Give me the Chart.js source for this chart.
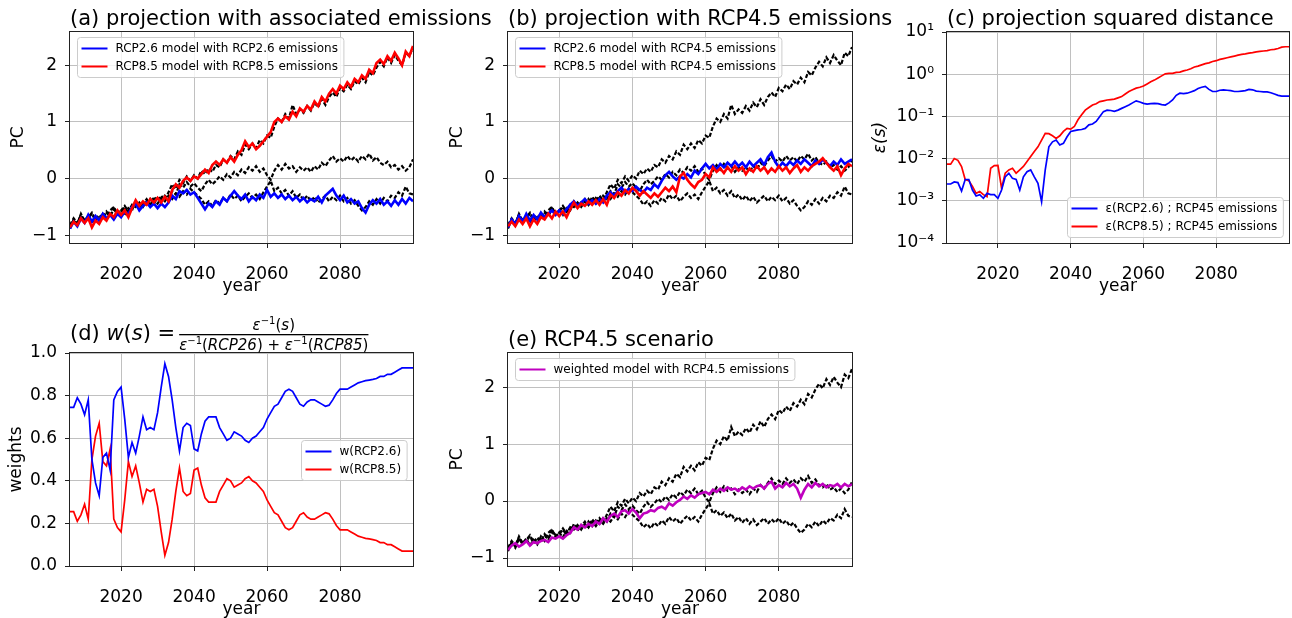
<!DOCTYPE html>
<html>
<head>
<meta charset="utf-8">
<script src="https://cdn.jsdelivr.net/npm/chart.js@4/dist/chart.umd.min.js"></script>
<style>
  html, body { margin: 0; padding: 0; background: #fff; }
  #wrap { position: relative; width: 1292px; height: 618px; }
  #wrap canvas { position: absolute; left: 0; top: 0; }
</style>
</head>
<body>
<div id="wrap">
  <canvas id="pa" width="1292" height="618"></canvas>
  <canvas id="pb" width="1292" height="618"></canvas>
  <canvas id="pc" width="1292" height="618"></canvas>
  <canvas id="pd" width="1292" height="618"></canvas>
  <canvas id="pe" width="1292" height="618"></canvas>
</div>
<script>
// one value per year, 2006 .. 2100
const years = [];
for (let y = 2006; y <= 2100; y++) years.push(y);
const yearTicks = [2020, 2040, 2060, 2080];
const pcTicks = [-1, 0, 1, 2];
const weightTicks = [0, 0.2, 0.4, 0.6, 0.8, 1.0];
const epsTicks = [1e-4, 1e-3, 1e-2, 1e-1, 1e0, 1e1];
const epsTickLabels = ["10\u207B\u2074", "10\u207B\u00B3", "10\u207B\u00B2", "10\u207B\u00B9", "10\u2070", "10\u00B9"];

// black reference runs (RCP8.5, RCP4.5, RCP2.6)
const blackHigh = [
  -0.88,-0.72,-0.80,-0.62,-0.74,-0.66,-0.78,-0.68,-0.76,-0.62,
  -0.70,-0.56,-0.50,-0.62,-0.55,-0.64,-0.52,-0.56,-0.40,-0.48,
  -0.44,-0.36,-0.46,-0.32,-0.40,-0.30,-0.38,-0.24,-0.10,-0.18,
  -0.02,-0.08,0.04,-0.04,0.06,0.00,0.14,0.08,0.18,0.12,
  0.24,0.20,0.34,0.28,0.40,0.34,0.48,0.42,0.60,0.52,
  0.62,0.54,0.68,0.62,0.76,0.72,0.92,1.06,1.00,1.14,
  1.06,1.30,1.14,1.22,1.16,1.28,1.20,1.34,1.26,1.40,
  1.30,1.44,1.52,1.44,1.60,1.54,1.66,1.58,1.72,1.66,
  1.78,1.70,1.88,1.82,1.96,2.06,1.98,2.14,2.04,2.18,
  2.08,2.00,2.22,2.16,2.32
];
const blackMid = [
  -0.84,-0.74,-0.82,-0.66,-0.76,-0.70,-0.62,-0.74,-0.66,-0.72,
  -0.60,-0.66,-0.54,-0.62,-0.58,-0.50,-0.60,-0.48,-0.44,-0.52,
  -0.42,-0.48,-0.36,-0.44,-0.34,-0.40,-0.30,-0.36,-0.22,-0.28,
  -0.10,-0.16,-0.06,-0.14,-0.08,-0.16,-0.22,-0.10,-0.02,-0.10,
  -0.04,0.04,-0.02,0.08,0.02,0.12,0.06,0.16,0.10,0.20,
  0.14,0.22,0.12,0.18,0.06,-0.02,0.14,0.24,0.16,0.26,
  0.18,0.22,0.12,0.20,0.14,0.20,0.12,0.22,0.16,0.28,
  0.22,0.32,0.40,0.30,0.36,0.30,0.40,0.32,0.38,0.30,
  0.40,0.34,0.44,0.32,0.38,0.28,0.24,0.30,0.20,0.24,
  0.16,0.22,0.14,0.20,0.34
];
const blackLow = [
  -0.82,-0.70,-0.78,-0.64,-0.74,-0.68,-0.60,-0.72,-0.64,-0.70,
  -0.58,-0.66,-0.52,-0.60,-0.56,-0.48,-0.58,-0.46,-0.50,-0.42,
  -0.50,-0.40,-0.46,-0.36,-0.44,-0.34,-0.40,-0.30,-0.36,-0.26,
  -0.32,-0.22,-0.28,-0.18,-0.24,-0.30,-0.36,-0.46,-0.40,-0.48,
  -0.38,-0.44,-0.34,-0.40,-0.28,-0.36,-0.30,-0.40,-0.32,-0.26,
  -0.34,-0.28,-0.36,-0.24,-0.14,-0.04,-0.22,-0.16,-0.26,-0.20,
  -0.30,-0.22,-0.34,-0.28,-0.38,-0.30,-0.40,-0.32,-0.42,-0.36,
  -0.30,-0.40,-0.32,-0.38,-0.30,-0.40,-0.34,-0.44,-0.38,-0.48,
  -0.56,-0.50,-0.40,-0.46,-0.36,-0.44,-0.34,-0.40,-0.30,-0.34,
  -0.24,-0.30,-0.14,-0.26,-0.28
];

// (a) models with their own emissions
const rcp85Own = [
  -0.86,-0.76,-0.82,-0.70,-0.78,-0.70,-0.86,-0.74,-0.80,-0.68,
  -0.74,-0.62,-0.68,-0.56,-0.64,-0.56,-0.68,-0.52,-0.38,-0.48,
  -0.40,-0.46,-0.36,-0.42,-0.34,-0.42,-0.32,-0.40,-0.20,-0.10,
  -0.16,-0.04,0.02,-0.04,0.04,0.00,0.08,0.16,0.10,0.24,
  0.30,0.24,0.34,0.28,0.38,0.30,0.42,0.50,0.66,0.56,
  0.62,0.52,0.58,0.66,0.74,0.82,1.00,1.06,1.00,1.10,
  1.04,1.18,1.10,1.24,1.18,1.28,1.22,1.36,1.28,1.44,
  1.36,1.50,1.58,1.50,1.64,1.58,1.70,1.62,1.76,1.70,
  1.82,1.76,1.92,1.86,2.04,2.10,2.02,2.16,2.08,2.22,
  2.12,2.00,2.24,2.16,2.34
];
const rcp26Own = [
  -0.88,-0.76,-0.84,-0.70,-0.78,-0.64,-0.76,-0.66,-0.74,-0.62,
  -0.70,-0.64,-0.72,-0.62,-0.68,-0.58,-0.62,-0.50,-0.44,-0.56,
  -0.48,-0.42,-0.50,-0.44,-0.52,-0.44,-0.50,-0.42,-0.30,-0.36,
  -0.22,-0.26,-0.20,-0.28,-0.24,-0.34,-0.44,-0.54,-0.44,-0.50,
  -0.40,-0.46,-0.34,-0.40,-0.30,-0.22,-0.30,-0.36,-0.28,-0.40,
  -0.32,-0.38,-0.28,-0.34,-0.20,-0.32,-0.26,-0.34,-0.28,-0.36,
  -0.30,-0.38,-0.32,-0.40,-0.34,-0.42,-0.36,-0.40,-0.32,-0.42,
  -0.30,-0.24,-0.18,-0.30,-0.38,-0.30,-0.42,-0.36,-0.44,-0.40,
  -0.52,-0.60,-0.46,-0.38,-0.44,-0.36,-0.46,-0.40,-0.48,-0.38,
  -0.46,-0.36,-0.44,-0.34,-0.40
];

// (b) both models with RCP4.5 emissions
const rcp26With45 = [
  -0.86,-0.72,-0.80,-0.66,-0.76,-0.62,-0.74,-0.64,-0.72,-0.60,
  -0.68,-0.62,-0.56,-0.64,-0.56,-0.62,-0.54,-0.46,-0.40,-0.48,
  -0.42,-0.36,-0.44,-0.38,-0.44,-0.36,-0.42,-0.30,-0.24,-0.30,
  -0.22,-0.16,-0.24,-0.18,-0.22,-0.14,-0.20,-0.24,-0.16,-0.20,
  -0.10,-0.16,-0.04,0.06,0.12,0.04,-0.02,0.04,0.00,0.08,
  0.02,0.14,0.08,0.18,0.26,0.18,0.24,0.16,0.26,0.20,
  0.28,0.22,0.30,0.22,0.28,0.20,0.30,0.22,0.28,0.34,
  0.24,0.38,0.46,0.30,0.20,0.28,0.22,0.30,0.24,0.32,
  0.26,0.34,0.28,0.22,0.32,0.26,0.34,0.28,0.22,0.30,
  0.24,0.34,0.26,0.30,0.34
];
const rcp85With45 = [
  -0.84,-0.76,-0.84,-0.72,-0.80,-0.70,-0.84,-0.72,-0.80,-0.68,
  -0.72,-0.62,-0.70,-0.58,-0.66,-0.58,-0.68,-0.54,-0.42,-0.52,
  -0.44,-0.48,-0.40,-0.46,-0.38,-0.46,-0.36,-0.46,-0.28,-0.34,
  -0.24,-0.30,-0.20,-0.26,-0.16,-0.22,-0.30,-0.22,-0.28,-0.34,
  -0.26,-0.32,-0.24,-0.16,-0.22,-0.14,-0.24,0.04,0.10,-0.02,
  -0.10,-0.16,-0.06,-0.02,0.08,0.02,0.20,0.12,0.18,0.10,
  0.20,0.12,0.22,0.14,0.20,0.08,0.18,0.12,0.22,0.14,
  0.20,0.10,0.18,0.12,0.22,0.14,0.20,0.10,0.18,0.24,
  0.12,0.20,0.14,0.22,0.26,0.30,0.36,0.28,0.20,0.14,
  0.22,0.06,0.18,0.26,0.22
];

// (c) squared distance
const epsRcp26 = [
  2.5e-3,2.5e-3,2.8e-3,2.7e-3,1.7e-3,3.2e-3,3.2e-3,1.8e-3,1.3e-3,1.4e-3,
  1.15e-3,1.5e-3,1.4e-3,1.4e-3,1.15e-3,1.8e-3,3.7e-3,4.5e-3,3.4e-3,3.2e-3,
  1.8e-3,3.7e-3,4.9e-3,5.4e-3,3.7e-3,2.6e-3,0.95e-3,5.4e-3,1.9e-2,2.5e-2,
  2.75e-2,2.1e-2,2.3e-2,3.3e-2,4.4e-2,4.6e-2,4.8e-2,4.9e-2,5.2e-2,6.3e-2,
  6.6e-2,7.6e-2,0.10,0.13,0.141,0.138,0.132,0.141,0.155,0.17,
  0.186,0.209,0.234,0.219,0.204,0.195,0.20,0.204,0.20,0.19,
  0.186,0.209,0.245,0.316,0.355,0.347,0.355,0.38,0.407,0.457,
  0.49,0.513,0.437,0.389,0.389,0.417,0.427,0.417,0.407,0.389,
  0.389,0.398,0.407,0.437,0.427,0.398,0.389,0.38,0.38,0.363,
  0.339,0.316,0.302,0.302,0.302
];
const epsRcp85 = [
  7.4e-3,7.4e-3,1.0e-2,9.1e-3,6.5e-3,3.2e-3,3.0e-3,2.2e-3,1.5e-3,1.66e-3,
  1.4e-3,1.26e-3,5.9e-3,6.8e-3,6.9e-3,2.0e-3,4.5e-3,5.4e-3,5.9e-3,4.5e-3,
  5.4e-3,6.5e-3,8.5e-3,1.12e-2,1.48e-2,1.9e-2,2.75e-2,3.98e-2,3.9e-2,3.47e-2,
  3.0e-2,3.47e-2,4.4e-2,5.2e-2,5.0e-2,5.75e-2,8.3e-2,0.11,0.141,0.162,
  0.186,0.20,0.224,0.234,0.245,0.251,0.257,0.275,0.295,0.339,
  0.389,0.427,0.468,0.49,0.525,0.589,0.66,0.724,0.813,0.912,
  1.02,1.05,1.05,1.10,1.12,1.20,1.26,1.35,1.48,1.55,
  1.66,1.78,1.86,2.0,2.09,2.24,2.34,2.45,2.57,2.69,
  2.82,2.95,3.02,3.16,3.24,3.39,3.47,3.55,3.63,3.80,
  3.89,4.07,4.37,4.47,4.47
];

// (d) weights
const wRcp26 = [
  0.745,0.745,0.79,0.76,0.71,0.78,0.50,0.39,0.33,0.51,
  0.53,0.45,0.78,0.82,0.84,0.69,0.51,0.58,0.53,0.61,
  0.70,0.64,0.65,0.64,0.72,0.84,0.95,0.89,0.78,0.65,
  0.54,0.65,0.67,0.66,0.55,0.54,0.62,0.68,0.70,0.70,
  0.70,0.65,0.62,0.59,0.60,0.63,0.62,0.61,0.59,0.58,
  0.60,0.61,0.63,0.65,0.69,0.72,0.75,0.76,0.79,0.82,
  0.83,0.82,0.79,0.76,0.75,0.77,0.78,0.78,0.77,0.76,
  0.75,0.755,0.78,0.81,0.83,0.83,0.83,0.84,0.85,0.86,
  0.865,0.87,0.873,0.876,0.88,0.89,0.89,0.90,0.90,0.91,
  0.92,0.93,0.93,0.93,0.93
];
const wRcp85 = [
  0.255,0.255,0.21,0.24,0.29,0.22,0.50,0.61,0.67,0.49,
  0.47,0.55,0.22,0.18,0.16,0.31,0.49,0.42,0.47,0.39,
  0.30,0.36,0.35,0.36,0.28,0.16,0.05,0.11,0.22,0.35,
  0.46,0.35,0.33,0.34,0.45,0.46,0.38,0.32,0.30,0.30,
  0.30,0.35,0.38,0.41,0.40,0.37,0.38,0.39,0.41,0.42,
  0.40,0.39,0.37,0.35,0.31,0.28,0.25,0.24,0.21,0.18,
  0.17,0.18,0.21,0.24,0.25,0.23,0.22,0.22,0.23,0.24,
  0.25,0.245,0.22,0.19,0.17,0.17,0.17,0.16,0.15,0.14,
  0.135,0.13,0.127,0.124,0.12,0.11,0.11,0.10,0.10,0.09,
  0.08,0.07,0.07,0.07,0.07
];

// (e) weighted model
const weighted45 = [
  -0.86,-0.78,-0.74,-0.80,-0.76,-0.70,-0.78,-0.72,-0.74,-0.70,
  -0.68,-0.72,-0.64,-0.66,-0.62,-0.66,-0.60,-0.56,-0.46,-0.50,
  -0.42,-0.46,-0.40,-0.44,-0.36,-0.40,-0.30,-0.36,-0.26,-0.22,
  -0.28,-0.18,-0.16,-0.22,-0.14,-0.20,-0.30,-0.22,-0.20,-0.16,
  -0.18,-0.12,-0.10,-0.14,-0.04,-0.08,-0.02,0.02,0.08,0.04,
  0.10,0.06,0.12,0.14,0.16,0.12,0.20,0.16,0.22,0.18,
  0.24,0.20,0.22,0.18,0.24,0.20,0.26,0.22,0.26,0.28,
  0.22,0.30,0.34,0.22,0.28,0.24,0.32,0.26,0.30,0.22,
  0.06,0.20,0.30,0.24,0.32,0.26,0.30,0.24,0.28,0.26,
  0.30,0.24,0.30,0.26,0.30
];

const F = '"DejaVu Sans"';
const GRID = '#c0c0c0';

function pts(arr) {
  return arr.map((v, i) => ({ x: years[i], y: v }));
}
function colored(data, color) {
  return { data: pts(data), borderColor: color, borderWidth: 2.6, pointRadius: 0, order: 0, fill: false };
}
function black(data) {
  return { data: pts(data), borderColor: '#000', borderWidth: 2.2, borderDash: [4, 2], pointRadius: 0, order: 1, fill: false };
}
function minusSign(v) {
  return String(v).replace('-', '\u2212');
}

const framePlugin = {
  id: 'frame',
  afterDatasetsDraw(chart) {
    const a = chart.chartArea, ctx = chart.ctx;
    ctx.save();
    ctx.strokeStyle = '#222';
    ctx.lineWidth = 1;
    ctx.strokeRect(Math.round(a.left) - 0.5, Math.round(a.top) - 0.5,
      Math.round(a.right - a.left) + 1, Math.round(a.bottom - a.top) + 1);
    ctx.restore();
  }
};

function titlePlugin(text) {
  return {
    id: 'panelTitle',
    afterDraw(chart) {
      const a = chart.chartArea, ctx = chart.ctx;
      ctx.save();
      ctx.fillStyle = '#000';
      ctx.font = '21px ' + F;
      ctx.textBaseline = 'alphabetic';
      ctx.textAlign = 'left';
      ctx.fillText(text, a.left, a.top - 7);
      ctx.restore();
    }
  };
}

function legendPlugin(items, where) {
  return {
    id: 'boxLegend',
    afterDraw(chart) {
      const a = chart.chartArea, ctx = chart.ctx;
      ctx.save();
      ctx.font = '12px ' + F;
      const tw = Math.max(...items.map(it => ctx.measureText(it.label).width));
      const w = 4 + 26 + 8 + tw + 6;
      const h = items.length * 18 + 4;
      let x, y;
      if (where === 'ul') { x = a.left + 7; y = a.top + 5; }
      else if (where === 'lr') { x = a.right - 6 - w; y = a.bottom - 6 - h; }
      else { x = a.right - 6 - w; y = (a.top + a.bottom) / 2 - h / 2; }
      x = Math.round(x) + 0.5; y = Math.round(y) + 0.5;
      ctx.beginPath();
      if (ctx.roundRect) ctx.roundRect(x, y, w, h, 3); else ctx.rect(x, y, w, h);
      ctx.fillStyle = 'rgba(255,255,255,0.8)';
      ctx.fill();
      ctx.strokeStyle = '#cccccc';
      ctx.lineWidth = 1;
      ctx.stroke();
      items.forEach((it, i) => {
        const cy = y + 11 + i * 18;
        ctx.beginPath();
        ctx.moveTo(x + 4, cy);
        ctx.lineTo(x + 30, cy);
        ctx.strokeStyle = it.color;
        ctx.lineWidth = 2;
        ctx.stroke();
        ctx.fillStyle = '#000';
        ctx.textBaseline = 'middle';
        ctx.fillText(it.label, x + 38, cy + 0.5);
      });
      ctx.restore();
    }
  };
}

function drawRuns(ctx, x, y, runs) {
  for (const r of runs) {
    ctx.font = r.f;
    ctx.fillText(r.t, x, y + (r.dy || 0));
    x += ctx.measureText(r.t).width;
  }
  return x;
}
function runsWidth(ctx, runs) {
  let w = 0;
  for (const r of runs) { ctx.font = r.f; w += ctx.measureText(r.t).width; }
  return w;
}

const weightTitlePlugin = {
  id: 'weightTitle',
  afterDraw(chart) {
    const a = chart.chartArea, ctx = chart.ctx;
    const up = '21px ' + F, it = 'italic 21px ' + F;
    const s = '15px ' + F, si = 'italic 15px ' + F, sup = '10px ' + F;
    ctx.save();
    ctx.fillStyle = '#000';
    ctx.textBaseline = 'alphabetic';
    ctx.textAlign = 'left';
    let x = drawRuns(ctx, a.left, a.top - 13, [
      { t: '(d) ', f: up }, { t: 'w', f: it }, { t: '(', f: up }, { t: 's', f: it },
      { t: ')', f: up }, { t: ' =', f: up }
    ]);
    x += 4;
    const num = [
      { t: '\u03B5', f: si }, { t: '\u22121', f: sup, dy: -6 }, { t: '(', f: s },
      { t: 's', f: si }, { t: ')', f: s }
    ];
    const den = [
      { t: '\u03B5', f: si }, { t: '\u22121', f: sup, dy: -6 }, { t: '(', f: s },
      { t: 'RCP26', f: si }, { t: ') + ', f: s },
      { t: '\u03B5', f: si }, { t: '\u22121', f: sup, dy: -6 }, { t: '(', f: s },
      { t: 'RCP85', f: si }, { t: ')', f: s }
    ];
    const dw = runsWidth(ctx, den), nw = runsWidth(ctx, num);
    drawRuns(ctx, x, a.top - 3, den);
    drawRuns(ctx, x + (dw - nw) / 2, a.top - 23, num);
    ctx.fillRect(x, a.top - 19, dw, 1.3);
    ctx.restore();
  }
};

function makeOptions(p) {
  return {
    responsive: false,
    animation: false,
    devicePixelRatio: 1,
    layout: { padding: { left: p.yl, top: p.T, right: 1292 - p.R, bottom: 618 - p.B - 54 } },
    plugins: { legend: { display: false }, tooltip: { enabled: false } },
    elements: { point: { radius: 0 }, line: { tension: 0 } },
    scales: {
      x: {
        type: 'linear', min: 2006, max: 2100,
        afterFit: s => { s.height = 54; },
        afterBuildTicks: s => { s.ticks = yearTicks.map(v => ({ value: v })); },
        grid: { color: GRID, lineWidth: 1, tickColor: '#222', tickLength: 5, tickWidth: 1 },
        border: { display: false },
        ticks: { color: '#000', font: { family: 'DejaVu Sans', size: 17 }, padding: 16, maxRotation: 0,
          callback: v => String(v) },
        title: { display: true, text: 'year', color: '#000', font: { family: 'DejaVu Sans', size: 17 },
          padding: 0 }
      },
      y: {
        type: p.log ? 'logarithmic' : 'linear', min: p.min, max: p.max,
        afterFit: s => { s.width = p.L - p.yl; },
        afterBuildTicks: s => { s.ticks = p.ticks.map(v => ({ value: v })); },
        grid: { color: GRID, lineWidth: 1, tickColor: '#222', tickLength: 5, tickWidth: 1 },
        border: { display: false },
        ticks: { color: '#000', font: { family: 'DejaVu Sans', size: 17 }, padding: 8,
          callback: p.fmt },
        title: { display: true, text: p.ylabel, color: '#000',
          font: { family: 'DejaVu Sans', size: 17, style: p.yitalic ? 'italic' : 'normal' }, padding: 0 }
      }
    }
  };
}

const pcFmt = v => minusSign(v);

// (a)
new Chart(document.getElementById('pa'), {
  type: 'line',
  data: { datasets: [
    colored(rcp85Own, '#ff0000'), colored(rcp26Own, '#0000ff'),
    black(blackHigh), black(blackMid), black(blackLow)
  ] },
  options: makeOptions({ yl: 8, L: 70, T: 32, R: 413, B: 243, min: -1.135, max: 2.586,
    ticks: pcTicks, fmt: pcFmt, ylabel: 'PC' }),
  plugins: [framePlugin, titlePlugin('(a) projection with associated emissions'),
    legendPlugin([{ label: 'RCP2.6 model with RCP2.6 emissions', color: '#0000ff' },
      { label: 'RCP8.5 model with RCP8.5 emissions', color: '#ff0000' }], 'ul')]
});

// (b)
new Chart(document.getElementById('pb'), {
  type: 'line',
  data: { datasets: [
    colored(rcp85With45, '#ff0000'), colored(rcp26With45, '#0000ff'),
    black(blackHigh), black(blackMid), black(blackLow)
  ] },
  options: makeOptions({ yl: 447, L: 508, T: 32, R: 852, B: 243, min: -1.135, max: 2.586,
    ticks: pcTicks, fmt: pcFmt, ylabel: 'PC' }),
  plugins: [framePlugin, titlePlugin('(b) projection with RCP4.5 emissions'),
    legendPlugin([{ label: 'RCP2.6 model with RCP4.5 emissions', color: '#0000ff' },
      { label: 'RCP8.5 model with RCP4.5 emissions', color: '#ff0000' }], 'ul')]
});

// (c)
const cOpts = makeOptions({ yl: 870, L: 947, T: 32, R: 1289, B: 243, min: 1e-4, max: 10, log: true,
  ticks: epsTicks, fmt: (v) => { const i = epsTicks.findIndex(t => Math.abs(Math.log10(t) - Math.log10(v)) < 1e-6); return i >= 0 ? epsTickLabels[i] : ''; },
  ylabel: '\u03B5(s)', yitalic: true });
new Chart(document.getElementById('pc'), {
  type: 'line',
  data: { datasets: [
    { data: pts(epsRcp26), borderColor: '#0000ff', borderWidth: 1.7, pointRadius: 0, fill: false },
    { data: pts(epsRcp85), borderColor: '#ff0000', borderWidth: 1.7, pointRadius: 0, fill: false }
  ] },
  options: cOpts,
  plugins: [framePlugin, titlePlugin('(c) projection squared distance'),
    legendPlugin([{ label: '\u03B5(RCP2.6) ; RCP45 emissions', color: '#0000ff' },
      { label: '\u03B5(RCP8.5) ; RCP45 emissions', color: '#ff0000' }], 'lr')]
});

// (d)
new Chart(document.getElementById('pd'), {
  type: 'line',
  data: { datasets: [
    { data: pts(wRcp26), borderColor: '#0000ff', borderWidth: 1.7, pointRadius: 0, fill: false },
    { data: pts(wRcp85), borderColor: '#ff0000', borderWidth: 1.7, pointRadius: 0, fill: false }
  ] },
  options: makeOptions({ yl: 6, L: 70, T: 353, R: 413, B: 566, min: 0, max: 1,
    ticks: weightTicks, fmt: v => Number(v).toFixed(1), ylabel: 'weights' }),
  plugins: [framePlugin, weightTitlePlugin,
    legendPlugin([{ label: 'w(RCP2.6)', color: '#0000ff' },
      { label: 'w(RCP8.5)', color: '#ff0000' }], 'cr')]
});

// (e)
new Chart(document.getElementById('pe'), {
  type: 'line',
  data: { datasets: [
    colored(weighted45, '#bf00bf'),
    black(blackHigh), black(blackMid), black(blackLow)
  ] },
  options: makeOptions({ yl: 447, L: 508, T: 353, R: 852, B: 566, min: -1.14, max: 2.6,
    ticks: pcTicks, fmt: pcFmt, ylabel: 'PC' }),
  plugins: [framePlugin, titlePlugin('(e) RCP4.5 scenario'),
    legendPlugin([{ label: 'weighted model with RCP4.5 emissions', color: '#bf00bf' }], 'ul')]
});
</script>
</body>
</html>
